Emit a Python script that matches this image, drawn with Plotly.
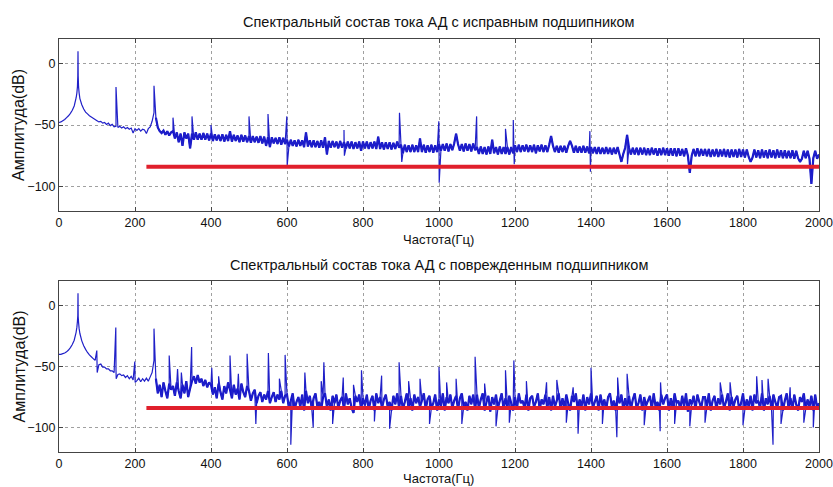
import numpy as np
import plotly.graph_objects as go

# ---------------- data ----------------
freq_step = 5  # Hz grid of the spectrum samples
freq_max = 2000
band_start_hz = 255  # where the broadband noise floor starts

titles = ["Спектральный состав тока АД с исправным подшипником",
          "Спектральный состав тока АД с поврежденным подшипником"]
x_label = "Частота(Гц)"
y_label = "Амплитуда(dB)"
x_ticks = [0, 200, 400, 600, 800, 1000, 1200, 1400, 1600, 1800, 2000]
y_ticks = [0, -50, -100]

# healthy bearing spectrum, dB, every 5 Hz (rows of 100 Hz)
healthy_db = [
    -48, -47.5, -46.5, -45.5, -44, -42.5, -40.5, -38, -34.5, -28, 10, -28.5, -33.5, -37, -39.5, -41, -42.5, -43.5, -44.5, -45.5,
    -46.5, -47.5, -47, -48.5, -48, -49.5, -48.5, -50.5, -49.5, -51.5, -51, -52, -51, -52.5, -51.5, -53, -52, -53.5, -52.5, -56.5,
    -53, -54.5, -53, -55, -53.5, -54, -57, -53, -51.5, -47, -40, -44, -52, -55, -56.5, -54.5, -58, -55, -58.5, -56,
    -55, -61, -56, -64, -57, -67, -56, -61, -57, -69, -57, -62, -56, -62, -57, -62, -56.5, -62, -57, -62.5,
    -57, -63, -57.5, -62.5, -58, -63, -57.5, -63.5, -58, -63, -55, -63.5, -58, -63, -58.5, -64, -58, -63.5, -58.5, -64,
    -59, -64.5, -59, -64, -59.5, -64.5, -59, -65, -59.5, -67, -60, -68, -60, -65, -60.5, -65.5, -60, -66, -60.5, -65.5,
    -62, -67.5, -62, -67, -62.5, -67.5, -62, -67, -62.5, -68, -56, -67.5, -62.5, -68, -62.5, -68, -63, -68.5, -62.5, -68.5,
    -60, -74, -63, -68.5, -63, -68, -63.5, -69, -63, -68.5, -64, -69, -63.5, -69, -63.5, -69.5, -64, -69, -63.5, -71,
    -63.5, -69, -63.5, -69.5, -64, -69, -63.5, -69.5, -59.5, -69.5, -64, -70, -64, -69.5, -64, -70, -64.5, -69.5, -63.5, -68.5,
    -66, -73, -66, -72, -66.5, -72, -66, -72, -66.5, -72, -61, -72, -66, -72.5, -66.5, -72, -66, -72.5, -66.5, -72,
    -65.5, -71, -65.5, -71, -65, -71.5, -65.5, -70.5, -65, -57, -65.5, -71, -65.5, -71.5, -65, -71, -65.5, -71.5, -65, -70.5,
    -68, -73.5, -67.5, -73.5, -68, -74, -67.5, -73.5, -62, -73, -68, -74, -67.5, -73.5, -68, -73.5, -68, -74, -68, -73,
    -66.5, -72, -66, -72, -66.5, -71.5, -66, -72, -66.5, -72, -66, -73, -66.5, -71.5, -66, -72, -66.5, -72, -66, -59,
    -67, -72, -67, -72.5, -67, -72, -67, -72.5, -67, -63, -67, -72.5, -67, -72.5, -67.5, -72.5, -67, -72.5, -67.5, -73,
    -68, -73, -68, -73.5, -68, -73.5, -68.5, -73.5, -68, -73.5, -68.5, -74, -68.5, -73.5, -68, -74, -80, -73.5, -68.5, -58,
    -68.5, -74, -68.5, -74, -68.5, -74.5, -68.5, -74, -68.5, -74.5, -69, -74.5, -68.5, -74, -69, -75, -69, -74.5, -68.5, -74.5,
    -69, -75, -69, -75, -69, -75.5, -69, -75, -69.5, -75.5, -69, -75, -89, -75, -69.5, -75.5, -69, -75.5, -69.5, -75,
    -69.5, -75.5, -69.5, -76, -70, -75.5, -69.5, -76, -70, -75.5, -69.5, -76, -70, -76.5, -70, -76, -70, -76.5, -69.5, -76,
    -70, -76.5, -70, -76, -80, -76.5, -70, -76.5, -70.5, -77, -70, -76.5, -70.5, -77, -70, -76.5, -70.5, -77, -70, -76.5,
    -70.5, -77, -70.5, -77, -71, -77, -70.5, -77.5, -71, -77, -80, -77.5, -71, -77, -71, -77.5, -98, -77, -71, -77.5,
    -74,
]
# sharp peaks / dips of the healthy spectrum
healthy_peak_hz = [47, 48.5, 49.5, 50.5, 51.5, 53, 150, 250, 300, 350, 400, 500, 550,
                   599.5, 600.5, 750, 751, 896, 902, 999.5, 1000.5, 1099, 1175,
                   1195.5, 1198, 1397, 1398.5, 1496]
healthy_peak_db = [-24, -19, -10, -10, -19, -24, -19, -18, -44, -43, -50, -43, -41,
                   -43, -83, -54, -75, -40, -80, -47, -97, -43, -53,
                   -46, -82, -55, -88, -82]

# damaged bearing spectrum, dB, every 5 Hz (rows of 100 Hz)
damaged_db = [
    -40, -40, -39.5, -39, -38, -36.5, -34.5, -32, -28.5, -22, 10, -23, -29, -33, -36, -38.5, -40.5, -42, -43.5, -45,
    -46, -48.5, -48, -50.5, -50.5, -52, -52, -53.5, -53.5, -55, -53, -56.5, -56, -57.5, -57, -59, -57.5, -60, -58, -61,
    -59.5, -61.5, -59.5, -62.5, -60, -62, -59.5, -62, -58.5, -55, -45, -60, -72, -65, -75, -63, -70, -76, -64, -69,
    -66, -74, -63, -70, -76, -65, -72, -62, -75, -68, -62, -58, -64, -57, -63, -60, -66, -61, -67, -63,
    -65, -73, -67, -76, -64, -71, -77, -66, -72, -63, -69, -76, -65, -73, -68, -77, -64, -71, -75, -66,
    -70, -78, -72, -69, -80, -74, -71, -79, -73, -77, -70, -80, -75, -71, -79, -73, -77, -70, -80, -74,
    -73, -84, -78, -72, -85, -79, -75, -83, -73, -86, -70, -80, -74, -84, -76, -72, -83, -79, -85, -75,
    -72, -83, -77, -86, -74, -80, -73, -84, -78, -75, -85, -72, -81, -76, -84, -88, -74, -79, -73, -85,
    -76, -82, -73, -85, -78, -74, -86, -72, -80, -75, -84, -77, -73, -83, -79, -86, -74, -81, -72, -84,
    -74, -85, -79, -72, -84, -76, -86, -73, -80, -75, -83, -78, -72, -85, -77, -74, -84, -80, -73, -86,
    -77, -83, -72, -86, -75, -80, -73, -84, -78, -74, -85, -76, -72, -83, -79, -86, -74, -81, -73, -85,
    -73, -84, -77, -72, -86, -79, -74, -87, -75, -81, -73, -84, -78, -72, -85, -76, -83, -74, -80, -86,
    -75, -85, -72, -80, -78, -84, -73, -86, -76, -74, -83, -79, -72, -85, -77, -81, -73, -84, -75, -86,
    -74, -83, -78, -72, -85, -76, -84, -73, -80, -86, -74, -79, -72, -85, -77, -83, -73, -86, -75, -81,
    -72, -84, -79, -74, -86, -73, -82, -77, -85, -75, -72, -83, -78, -86, -74, -80, -73, -85, -76, -84,
    -74, -85, -77, -72, -84, -80, -73, -86, -75, -82, -78, -74, -85, -72, -83, -79, -86, -73, -81, -76,
    -73, -86, -76, -84, -72, -80, -78, -85, -74, -83, -72, -87, -77, -81, -74, -85, -73, -79, -84, -75,
    -75, -83, -72, -86, -78, -74, -85, -76, -81, -73, -84, -79, -72, -86, -75, -83, -77, -74, -85, -80,
    -72, -85, -77, -83, -74, -86, -73, -80, -78, -84, -72, -86, -76, -81, -74, -85, -73, -79, -84, -75,
    -74, -86, -78, -72, -84, -76, -85, -73, -81, -86, -75, -79, -72, -85, -77, -83, -74, -86, -73, -84,
    -80,
]
damaged_peak_hz = [47, 48.5, 49.5, 50.5, 51.5, 53, 99.5, 100.5, 149.5, 150.5, 199.5, 200.5, 250,
                   290, 312, 322, 349, 402, 420, 450, 472, 495, 518, 551, 580, 595, 610,
                   647, 669, 690, 697, 720, 748, 775, 796, 830, 849, 870, 895, 920, 950,
                   975, 1000, 1020, 1045, 1060, 1095, 1120, 1150, 1175, 1185, 1197, 1230,
                   1283, 1310, 1335, 1353, 1366, 1400, 1430, 1468, 1470, 1495, 1540, 1582,
                   1583, 1620, 1660, 1700, 1740, 1766, 1800, 1836, 1850, 1866, 1879, 1900,
                   1924, 1960, 1985]
damaged_peak_db = [-18, -13, -8, -9, -14, -19, -37, -55, -18, -60, -46, -63, -19,
                   -41, -52, -55, -34, -51, -58, -41, -56, -39.5, -97, -39, -60, -40.5, -114,
                   -55, -100, -62, -46.5, -97, -59, -65, -53, -95, -57.5, -101, -46.5, -62, -60,
                   -97, -50.5, -63, -60, -97, -42, -64, -99, -53, -96, -45, -62,
                   -63, -61, -96, -67, -105, -51, -97, -108, -59, -56, -98, -103,
                   -63, -97, -99, -96, -63, -63, -98, -58, -61, -60, -114, -97,
                   -67, -96, -100]

# horizontal threshold line
threshold_hz = [230, 2000]
threshold_db = [-84, -84]


def grid_hz():
    return np.arange(0, freq_max + freq_step, freq_step, dtype=float)


def merged(grid_db, peak_hz, peak_db):
    hz = np.concatenate([grid_hz(), np.asarray(peak_hz, float)])
    db = np.concatenate([np.asarray(grid_db, float), np.asarray(peak_db, float)])
    order = np.argsort(hz, kind="stable")
    return hz[order], db[order]


def band(grid_db):
    hz = grid_hz()
    db = np.asarray(grid_db, float)
    keep = hz >= band_start_hz
    return hz[keep], db[keep]


series = [
    (*band(healthy_db), *merged(healthy_db, healthy_peak_hz, healthy_peak_db)),
    (*band(damaged_db), *merged(damaged_db, damaged_peak_hz, damaged_peak_db)),
]

# ---------------- figure ----------------
W, H = 833, 487
FONT = "Liberation Sans, Arial, sans-serif"
BLUE = "#1414cc"
BLUE_THIN = "#2020c8"
RED = "#e0202c"
TXT = "#111111"

fig = go.Figure()
for i, (b_hz, b_db, m_hz, m_db) in enumerate(series):
    xa = "x" if i == 0 else "x2"
    ya = "y" if i == 0 else "y2"
    # dense broadband noise floor
    fig.add_trace(go.Scatter(x=b_hz, y=b_db, mode="lines", xaxis=xa, yaxis=ya,
                             line=dict(color=BLUE, width=2.2, simplify=False), showlegend=False,
                             hoverinfo="skip"))
    # full spectrum incl. narrow harmonics
    fig.add_trace(go.Scatter(x=m_hz, y=m_db, mode="lines", xaxis=xa, yaxis=ya,
                             line=dict(color=BLUE_THIN, width=1.2, simplify=False), showlegend=False,
                             hoverinfo="skip"))
    fig.add_trace(go.Scatter(x=threshold_hz, y=threshold_db, mode="lines", xaxis=xa, yaxis=ya,
                             line=dict(color=RED, width=4), showlegend=False,
                             hoverinfo="skip"))

plot_l, plot_r = 59, 819
panels = [(39, 211), (281, 452)]      # top, bottom pixel rows of each plot area
title_y = [21.5, 265]
xlabel_y = [239, 478]

axis_common = dict(
    showline=True, linecolor="#444444", linewidth=1, mirror="ticks",
    ticks="inside", ticklen=4, tickcolor="#444444", automargin=False,
    showgrid=True, gridcolor="#a0a0a0", griddash="dot", gridwidth=1,
    zeroline=False, tickfont=dict(family=FONT, size=12.5, color=TXT),
)

layout = dict(
    width=W, height=H, autosize=False, margin=dict(l=0, r=0, t=0, b=0, pad=0),
    paper_bgcolor="white", plot_bgcolor="white",
    font=dict(family=FONT, color=TXT),
    showlegend=False,
)
annotations = []
for i, (top, bot) in enumerate(panels):
    sfx = "" if i == 0 else "2"
    ydom = [(H - bot) / H, (H - top) / H]
    layout["xaxis" + sfx] = dict(axis_common, domain=[plot_l / W, plot_r / W],
                                 range=[0, 2000], tickvals=x_ticks,
                                 anchor="y" + sfx)
    layout["yaxis" + sfx] = dict(axis_common, domain=ydom, range=[-120, 20],
                                 tickvals=y_ticks, anchor="x" + sfx)
    cx = (plot_l + plot_r) / 2 / W
    annotations.append(dict(text=titles[i], x=cx, y=(H - title_y[i]) / H, xref="paper", yref="paper",
                            xanchor="center", yanchor="middle", showarrow=False,
                            font=dict(family=FONT, size=14.5, color=TXT)))
    annotations.append(dict(text=x_label, x=438 / W, y=(H - xlabel_y[i]) / H, xref="paper",
                            yref="paper", xanchor="center", yanchor="middle", showarrow=False,
                            font=dict(family=FONT, size=13, color=TXT)))
    annotations.append(dict(text=y_label, x=19 / W, y=(H - (top + bot) / 2) / H, xref="paper",
                            yref="paper", xanchor="center", yanchor="middle", showarrow=False,
                            textangle=-90, font=dict(family=FONT, size=16, color=TXT)))
layout["annotations"] = annotations
fig.update_layout(**layout)

fig.write_html("out.html", config={"responsive": False, "displayModeBar": False},
               post_script="document.body.style.margin='0';document.body.style.overflow='hidden';")
